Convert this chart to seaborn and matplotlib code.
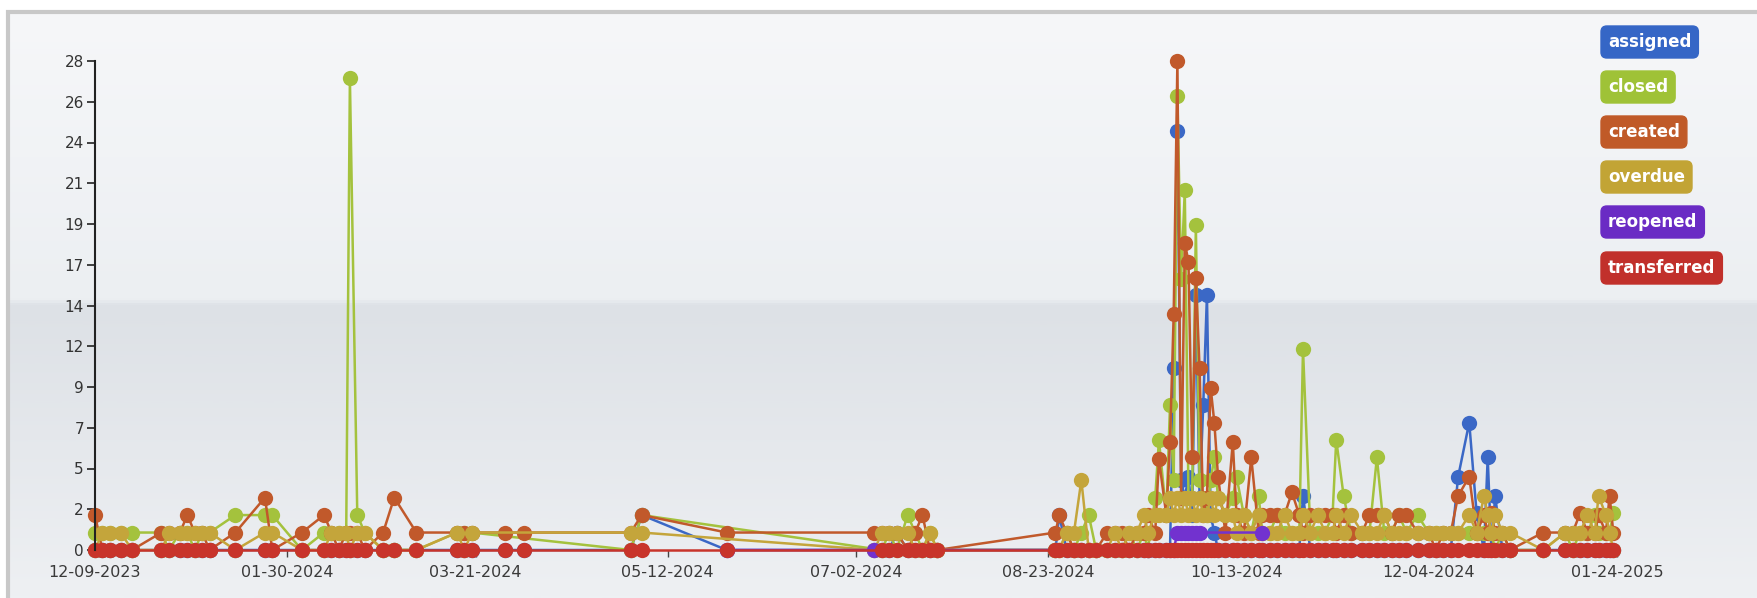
import numpy as np
import pandas as pd
import seaborn as sns
import matplotlib.pyplot as plt
from matplotlib.colors import LinearSegmentedColormap

N = None

# Dates of the samples (shared by all series)
dates = [
    "2023-12-09", "2023-12-11", "2023-12-13", "2023-12-16", "2023-12-19",
    "2023-12-27", "2023-12-29", "2024-01-01", "2024-01-03", "2024-01-05",
    "2024-01-07", "2024-01-09", "2024-01-16", "2024-01-24", "2024-01-26",
    "2024-02-03", "2024-02-09", "2024-02-11", "2024-02-13", "2024-02-15",
    "2024-02-16", "2024-02-18", "2024-02-20", "2024-02-25", "2024-02-28",
    "2024-03-05", "2024-03-16", "2024-03-18", "2024-03-20", "2024-03-29",
    "2024-04-03", "2024-05-02", "2024-05-05", "2024-05-28", "2024-07-07",
    "2024-07-09", "2024-07-11", "2024-07-13", "2024-07-16", "2024-07-18",
    "2024-07-20", "2024-07-22", "2024-07-24", "2024-08-25", "2024-08-26",
    "2024-08-28", "2024-08-30", "2024-09-01", "2024-09-03", "2024-09-05",
    "2024-09-08", "2024-09-10", "2024-09-12", "2024-09-14", "2024-09-16",
    "2024-09-18", "2024-09-19", "2024-09-21", "2024-09-22", "2024-09-24",
    "2024-09-25", "2024-09-26", "2024-09-27", "2024-09-28", "2024-09-29",
    "2024-09-30", "2024-10-01", "2024-10-02", "2024-10-03", "2024-10-04",
    "2024-10-05", "2024-10-06", "2024-10-07", "2024-10-08", "2024-10-10",
    "2024-10-12", "2024-10-13", "2024-10-15", "2024-10-17", "2024-10-19",
    "2024-10-20", "2024-10-22", "2024-10-24", "2024-10-26", "2024-10-28",
    "2024-10-30", "2024-10-31", "2024-11-02", "2024-11-04", "2024-11-06",
    "2024-11-08", "2024-11-09", "2024-11-11", "2024-11-13", "2024-11-16",
    "2024-11-18", "2024-11-20", "2024-11-22", "2024-11-24", "2024-11-26",
    "2024-11-28", "2024-12-01", "2024-12-04", "2024-12-06", "2024-12-08",
    "2024-12-10", "2024-12-12", "2024-12-15", "2024-12-17", "2024-12-19",
    "2024-12-20", "2024-12-21", "2024-12-22", "2024-12-24", "2024-12-26",
    "2025-01-04", "2025-01-10", "2025-01-12", "2025-01-14", "2025-01-16",
    "2025-01-18", "2025-01-19", "2025-01-21", "2025-01-22", "2025-01-23",
]

assigned = [
    0, 0, 0, 0, 0,  0, 0, 0, 0, 0,  0, 0, 0, 0, 0,  0, 0, 0, 0, 0,
    0, 0, 0, 0, 0,  0, 0, 0, 0, 0,  0, 0, 2, 0, 0,  0, 0, 1, 0, 0,
    0, 0, 0, 0, 2,  0, 0, 0, 0, 0,  0, 0, 0, 0, 0,  0, 0, 0, 0, 0,
    0, 10.4, 24, 4, 3,  4.2, 2, 14.6, 3, 8.3,  14.6, 2, 1, 0, 0,  0, 0, 0, 0, 0,
    0, 0, 0, 0, 0,  0, 3.1, 0, 0, 0,  0, 0, 0, 0, 0,  0, 0, 0, 0, 0,
    0, 0, 0, 0, 0,  0, 4.2, 7.3, 2.1, 0,  5.3, 0, 3.1, 0, 0,  0, 0, 0, 0, 0,
    0, 0, 0, 0, 0,
]
closed = [
    1, 1, 1, 1, 1,  1, 0, 1, 1, 0,  1, 1, 2, 2, 2,  0, 1, 1, 1, 1,
    27, 2, 1, 0, 0,  0, 1, 1, 1, N,  N, 0, 2, N, N,  0, 1, 0, 2, 1,
    0, 1, 0, 0, 0,  1, 0, 1, 2, 0,  0, 0, 0, 1, 0,  1, 0, 3, 6.3, 2,
    8.3, 4, 26, 15.5, 20.6,  3, 3, 18.6, 4, 3,  2, 4, 5.3, 3, 2,  3, 4.2, 2, 1, 3.1,
    1, 1, 2, 1, 1,  1, 11.5, 1, 1, 1,  2, 6.3, 3.1, 1, 1,  1, 5.3, 1, 1, 2,
    1, 2, 1, 1, 1,  1, 1, 1, 1, 1,  1, 1, 0, 1, 0,  0, 1, 0, 1, 1,
    2, 1, 1, 1, 2.1,
]
created = [
    2, 0, 0, 0, 0,  1, 1, 1, 2, 1,  1, 0, 1, 3, 0,  1, 2, 1, 0, 1,
    1, 1, 0, 1, 3,  1, 1, 1, 1, 1,  1, 1, 2, 1, 1,  1, 1, 1, 0, 1,
    2, 0, 0, 1, 2,  1, 0, 0, 0, 0,  1, 1, 1, 0, 1,  1, 2, 1, 5.2, 2,
    6.2, 13.5, 28, 3, 17.6,  16.5, 5.3, 15.6, 10.4, 2,  3, 9.3, 7.3, 4.2, 1,  6.2, 2, 1, 5.3, 1,
    2, 2, 2, 2, 3.3,  2, 1, 2, 2, 2,  2, 1, 2, 1, 1,  2, 2, 2, 1, 2,
    2, 1, 1, 0, 1,  1, 3.1, 4.2, 1, 2,  1, 2.1, 1, 1, 0,  1, 1, 1, 2.1, 1,
    1, 2, 1, 3.1, 1,
]
overdue = [
    0, 1, 1, 1, 0,  0, 1, 1, 1, 1,  1, 1, 0, 1, 1,  0, 0, 1, 1, 1,
    0, 1, 1, 0, 0,  0, 1, 0, 1, N,  N, 1, 1, N, 0,  1, 1, 1, 1, 0,
    0, 1, 0, 0, 0,  1, 1, 4, 0, 0,  0, 1, 0, 1, 1,  2, 1, 2, 2, 2,
    3, 2, 3, 2, 3,  2, 3, 2, 3, 2,  2, 3, 2, 3, 2,  2, 1, 2, 1, 2,
    1, 1, 1, 2, 1,  1, 2, 1, 2, 1,  1, 2, 1, 2, 1,  1, 1, 2, 1, 1,
    1, 1, 1, 1, 1,  1, 1, 2, 1, 3.1,  2, 1, 2, 1, 1,  0, 1, 1, 1, 2,
    1, 3.1, 2, 1, 0,
]
reopened = [
    N, N, N, N, N,  N, N, N, N, N,  N, N, N, N, N,  N, N, N, N, N,
    N, N, N, N, N,  N, N, N, N, N,  N, N, N, 0, 0,  N, N, N, N, N,
    N, N, N, N, N,  N, N, N, N, N,  N, N, N, N, N,  N, 0, N, N, N,
    N, 0, 1, 1, 1,  1, 1, 1, 1, N,  N, N, N, N, N,  N, N, N, N, N,
    1, N, N, N, N,  N, N, N, N, N,  N, N, N, N, N,  N, N, N, N, N,
    N, N, N, N, N,  N, N, N, N, N,  N, N, N, N, N,  N, N, N, N, N,
    N, N, N, N, N,
]
transferred = [
    0, 0, 0, 0, 0,  0, 0, 0, 0, 0,  0, 0, 0, 0, 0,  0, 0, 0, 0, 0,
    0, 0, 0, 0, 0,  0, 0, 0, 0, 0,  0, 0, 0, 0, N,  0, 0, 0, 0, 0,
    0, 0, 0, 0, 0,  0, 0, 0, 0, 0,  0, 0, 0, 0, 0,  0, 0, 0, 0, 0,
    0, 0, 0, 0, 0,  0, 0, 0, 0, 0,  0, 0, 0, 0, 0,  0, 0, 0, 0, 0,
    0, 0, 0, 0, 0,  0, 0, 0, 0, 0,  0, 0, 0, 0, 0,  0, 0, 0, 0, 0,
    0, 0, 0, 0, 0,  0, 0, 0, 0, 0,  0, 0, 0, 0, 0,  0, 0, 0, 0, 0,
    0, 0, 0, 0, 0,
]

series_names = ["assigned", "closed", "created", "overdue", "reopened", "transferred"]
series_colors = ["#3b68c6", "#a4c23d", "#c1592b", "#c4a53b", "#7232cf", "#c8342b"]
legend_colors = ["#3566c6", "#9fc237", "#c05a28", "#c2a435", "#6a2bc4", "#c1302b"]

x_tick_dates = ["2023-12-09", "2024-01-30", "2024-03-21", "2024-05-12", "2024-07-02",
                "2024-08-23", "2024-10-13", "2024-12-04", "2025-01-24"]
x_tick_labels = ["12-09-2023", "01-30-2024", "03-21-2024", "05-12-2024", "07-02-2024",
                 "08-23-2024", "10-13-2024", "12-04-2024", "01-24-2025"]
y_tick_labels = ["0", "2", "5", "7", "9", "12", "14", "17", "19", "21", "24", "26", "28"]

series_values = [assigned, closed, created, overdue, reopened, transferred]
for vals in series_values:
    assert len(vals) == len(dates)

frames = []
for name, vals in zip(series_names, series_values):
    frames.append(pd.DataFrame({"date": pd.to_datetime(dates), "count": vals, "status": name}))
df = pd.concat(frames, ignore_index=True)
df["count"] = pd.to_numeric(df["count"])
df = df.dropna()

sns.set_style("white")
W, H = 1758, 598
fig = plt.figure(figsize=(W / 100, H / 100), dpi=100)
fig.patch.set_facecolor("white")

# panel background gradient
bg = fig.add_axes([8 / W, 0, 1 - 8 / W, 1 - 12 / H])
cmap = LinearSegmentedColormap.from_list(
    "panel",
    [(0.0, "#f6f7f9"), (0.49, "#eceff2"), (0.50, "#dde1e6"), (1.0, "#eef0f3")],
)
grad = np.linspace(0, 1, 600).reshape(-1, 1)
bg.imshow(grad, aspect="auto", cmap=cmap, extent=[0, 1, 0, 1], origin="upper")
bg.axis("off")
fig.add_artist(plt.Rectangle((8 / W, -0.1), 1.2, 1 - 12 / H + 0.1,
                             transform=fig.transFigure, fill=False,
                             ec="#c8c8c8", lw=3))

ax = fig.add_axes([95 / W, 1 - 550 / H, (1617 - 95) / W, (550 - 61) / H])
ax.set_facecolor("none")

for name, color in zip(series_names, series_colors):
    sub = df[df["status"] == name]
    sns.lineplot(data=sub, x="date", y="count", ax=ax, color=color,
                 estimator=None, sort=True, legend=False,
                 marker="o", markersize=11, markeredgewidth=0,
                 linewidth=1.8, clip_on=False)

ax.set_xlim(pd.Timestamp("2023-12-09"), pd.Timestamp("2025-01-24"))
ax.set_ylim(0, 28)
ax.set_yticks(np.linspace(0, 28, 13))
ax.set_yticklabels(y_tick_labels)
ax.set_xticks(pd.to_datetime(x_tick_dates))
ax.set_xticklabels(x_tick_labels)
ax.set_xlabel("")
ax.set_ylabel("")

for side in ["top", "right", "bottom"]:
    ax.spines[side].set_visible(False)
ax.spines["left"].set_color("#222222")
ax.spines["left"].set_linewidth(1.5)

ax.tick_params(axis="y", length=6, width=1.2, color="#222222",
               labelsize=11, labelcolor="#333333", pad=2, left=True)
ax.tick_params(axis="x", length=5, width=1, color="#444444",
               labelsize=11.5, labelcolor="#3a3a3a", pad=6, bottom=True)

# legend: coloured rounded boxes with white text
legend_y = [42, 87, 132, 177, 222, 268]
for name, color, yy in zip(series_names, legend_colors, legend_y):
    fig.text(1608 / W, 1 - yy / H, name, ha="left", va="center",
             color="white", fontsize=12, fontweight="bold",
             bbox=dict(boxstyle="round,pad=0.42,rounding_size=0.35",
                       fc=color, ec=color))

fig.savefig("out.png", dpi=100)
